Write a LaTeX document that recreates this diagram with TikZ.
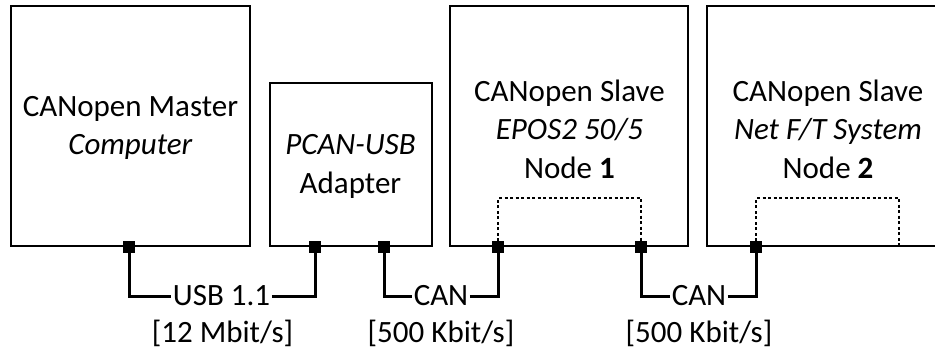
\documentclass[tikz,border=0pt]{standalone}
\usepackage{fontspec}
\setmainfont{Carlito}
\begin{document}
\begin{tikzpicture}[x=1pt,y=-1pt,
  box/.style={draw=black, line width=2pt, inner sep=0pt, outer sep=0pt},
  txt/.style={align=center, font=\fontsize{31}{38.5}\selectfont, inner sep=0pt},
  port/.style={fill=black, minimum size=12pt, inner sep=0pt, outer sep=0pt},
  wire/.style={line width=3pt},
  inner/.style={line width=1.5pt, dash pattern=on 3pt off 2.5pt},
  lbl/.style={font=\fontsize{31}{34}\selectfont, inner sep=1.5pt},
]
\useasboundingbox (0,0) rectangle (935,353);
% boxes
\node[box, minimum width=239pt, minimum height=240pt] (master) at (130.5,126) {};
\node[box, minimum width=162pt, minimum height=163pt] (adapter) at (350.5,164.5) {};
\node[box, minimum width=238pt, minimum height=240pt] (epos) at (569,126) {};
\coordinate (ft) at (707,6);
\draw[line width=2pt] (936,6) -- (ft) -- (707,246) -- (936,246);
% texts
\node[txt] (tmaster) at (130.5,128) {CANopen Master\\\textit{Computer}};
\node[txt] (tadapter) at (350.5,166.5) {\textit{PCAN-USB}\\Adapter};
\node[txt] (tepos) at (569.5,129) {CANopen Slave\\\textit{EPOS2 50/5}\\Node \textbf{1}};
\node[txt] (tft) at (828,129) {CANopen Slave\\\textit{Net F/T System}\\Node \textbf{2}};
% internal dashed links
\coordinate (e1) at (498,198);
\coordinate (e2) at (641,198);
\coordinate (f1) at (756,198);
\coordinate (f2) at (899,198);
\coordinate (f2b) at (899,246);
% ports
\node[port] (pm) at (129,246.5) {};
\node[port] (pa1) at (315,246.5) {};
\node[port] (pa2) at (384,246.5) {};
\node[port] (pe1) at (498,246.5) {};
\node[port] (pe2) at (641,246.5) {};
\node[port] (pf1) at (756,246.5) {};
\draw[inner] (pe1.center) -- (e1) -- (e2) -- (pe2.center);
\draw[inner] (pf1.center) -- (f1) -- (f2) -- (f2b);
\node[port] at (pe1) {};
\node[port] at (pe2) {};
\node[port] at (pf1) {};
% labels
\node[lbl] (usb) at (221.5,296) {USB 1.1};
\node[lbl] (usbr) at (222.5,333) {[12 Mbit/s]};
\node[lbl] (can1) at (441,296) {CAN};
\node[lbl] (can1r) at (441,333) {[500 Kbit/s]};
\node[lbl] (can2) at (699,296) {CAN};
\node[lbl] (can2r) at (699,333) {[500 Kbit/s]};
% wires
\draw[wire] (pm) |- (usb.west);
\draw[wire] (usb.east) -| (pa1);
\draw[wire] (pa2) |- (can1.west);
\draw[wire] (can1.east) -| (pe1);
\draw[wire] (pe2) |- (can2.west);
\draw[wire] (can2.east) -| (pf1);
\end{tikzpicture}
\end{document}
